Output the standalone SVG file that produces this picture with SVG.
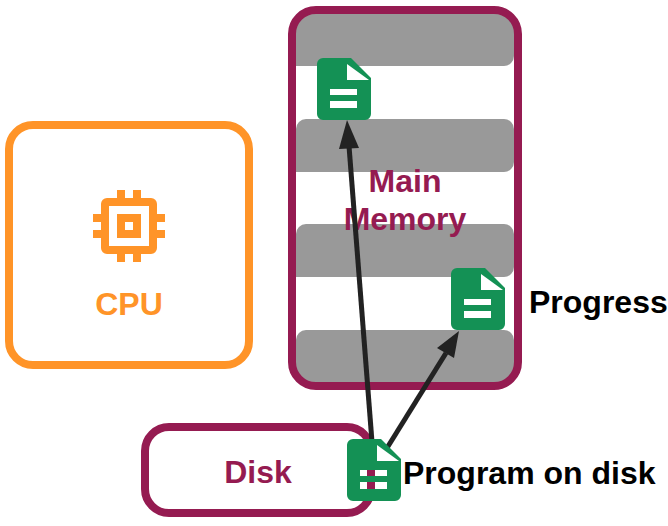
<svg xmlns="http://www.w3.org/2000/svg" width="668" height="526" viewBox="0 0 668 526">
<style>
text{font-family:"Liberation Sans",Arial,sans-serif;font-weight:700}
.box{fill:none;stroke-width:8}
.crim{stroke:#951b51}
.org{stroke:#ff9428}
.bar{fill:#999}
.t{fill:#951b51;font-size:32px;text-anchor:middle}
.k{fill:#000;font-size:32px}
.c{fill:none;stroke:#222;stroke-width:5}
.h{fill:#222}
</style>
<defs>
<g id="doc">
<path fill="#149155" fill-rule="evenodd" d="M6 0H34L54 20V56A6 6 0 0 1 48 62H6A6 6 0 0 1 0 56V6A6 6 0 0 1 6 0ZM13 31V37H40V31ZM13 43V50H40V43Z"/>
<path fill="#fff" d="M30 6V22H52Z"/>
</g>
</defs>
<g id="cpu">
<rect class="box org" x="9" y="125" width="240" height="240" rx="24"/>
<g fill="#ff9428">
<path fill-rule="evenodd" d="M107 198H151A6 6 0 0 1 157 204V248A6 6 0 0 1 151 254H107A6 6 0 0 1 101 248V204A6 6 0 0 1 107 198ZM109 206V246H149V206ZM117 214H141V238H117ZM125 222V230H133V222Z"/>
<path d="M117 190h8v8h-8zM133 190h8v8h-8zM117 254h8v8h-8zM133 254h8v8h-8zM93 214h8v8h-8zM93 230h8v8h-8zM157 214h8v8h-8zM157 230h8v8h-8z"/>
</g>
<text x="129" y="315" fill="#ff9428" font-size="32" text-anchor="middle">CPU</text>
</g>
<g id="memory">
<path class="bar" d="M296 30A16 16 0 0 1 312 14H498A16 16 0 0 1 514 30V56A10 10 0 0 1 504 66H296Z"/>
<path class="bar" d="M306 119H504A10 10 0 0 1 514 129V162A10 10 0 0 1 504 172H296V129A10 10 0 0 1 306 119Z"/>
<path class="bar" d="M306 224H504A10 10 0 0 1 514 234V267A10 10 0 0 1 504 277H296V234A10 10 0 0 1 306 224Z"/>
<path class="bar" d="M306 330H504A10 10 0 0 1 514 340V366A16 16 0 0 1 498 382H312A16 16 0 0 1 296 366V340A10 10 0 0 1 306 330Z"/>
<rect class="box crim" x="292" y="10" width="226" height="376" rx="24"/>
<text class="t" x="405" y="192">Main</text>
<text class="t" x="405" y="230">Memory</text>
</g>
<g id="disk">
<rect class="box crim" x="145" y="427" width="226" height="86" rx="24"/>
<text class="t" x="258" y="483">Disk</text>
</g>
<g id="connectors">
<path class="c" d="M372 442L349 146"/>
<path class="h" d="M347 120L359 148L339 149Z"/>
<path class="c" d="M387 448L446 353"/>
<path class="h" d="M459 331L454 358L437 348Z"/>
</g>
<g id="file-memory"><use href="#doc" x="317" y="58"/></g>
<g id="file-progress"><use href="#doc" x="451" y="268"/><text class="k" x="529" y="313">Progress</text></g>
<g id="file-disk"><use href="#doc" x="347" y="439"/><text class="k" x="403" y="484">Program on disk</text></g>
</svg>
